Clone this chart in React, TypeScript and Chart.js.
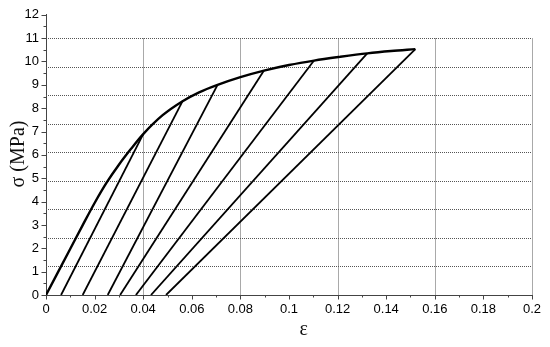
import React, { useEffect, useRef } from "react";
import { Chart, registerables } from "chart.js";

Chart.register(...registerables);

// Loading envelope (strain, stress in MPa)
const envelopeStrain = [0, 0.005, 0.01, 0.015, 0.02, 0.025, 0.03, 0.035, 0.04, 0.048, 0.0562, 0.063, 0.0706, 0.08, 0.0897, 0.1, 0.1103, 0.121, 0.1322, 0.142, 0.152];
const envelopeStress = [0, 0.99, 1.98, 2.97, 3.94, 4.82, 5.58, 6.26, 6.89, 7.7, 8.3, 8.68, 9.0, 9.33, 9.61, 9.85, 10.04, 10.2, 10.35, 10.45, 10.53];

// Unloading branches: from peak on envelope down to residual strain at zero stress
const peakStrain = [0.04, 0.0562, 0.0706, 0.0897, 0.1103, 0.1322, 0.152];
const peakStress = [6.89, 8.3, 9.0, 9.61, 10.04, 10.35, 10.53];
const residualStrain = [0.0062, 0.0151, 0.0254, 0.0305, 0.037, 0.0432, 0.0494];

// Axis ticks / grid
const xMin = 0, xMax = 0.2, xStep = 0.02, xMinorStep = 0.01;
const yMin = 0, yMax = 12, yStep = 1, yMinorStep = 0.5;
const gridX = [0.04, 0.08, 0.12, 0.16, 0.2];
const gridY = [1.222, 2.444, 3.667, 4.889, 6.111, 7.333, 8.556, 9.778, 11];
const gridTop = 11;

const xTitle = "ε";
const yTitle = "σ (MPa)";

const decorPlugin = {
  id: "decor",
  beforeDatasetsDraw(chart: any) {
    const { ctx, scales } = chart;
    const x = scales.x, y = scales.y;
    ctx.save();
    ctx.strokeStyle = "#555";
    ctx.lineWidth = 1;
    ctx.setLineDash([1, 1]);
    const top = Math.round(y.getPixelForValue(gridTop)) + 0.5;
    const bottom = y.getPixelForValue(0);
    for (const v of gridY) {
      const py = Math.round(y.getPixelForValue(v)) + 0.5;
      ctx.beginPath();
      ctx.moveTo(x.left, py);
      ctx.lineTo(x.right, py);
      ctx.stroke();
    }
    for (const v of gridX) {
      const px = Math.round(x.getPixelForValue(v)) + 0.5;
      ctx.beginPath();
      ctx.moveTo(px, top);
      ctx.lineTo(px, bottom);
      ctx.stroke();
    }
    ctx.restore();
  },
  afterDraw(chart: any) {
    const { ctx, scales } = chart;
    const x = scales.x, y = scales.y;
    ctx.save();
    ctx.strokeStyle = "#444";
    ctx.lineWidth = 1;
    const axisX = Math.round(x.left) + 0.5;
    const axisY = Math.round(y.bottom) + 0.5;
    // y ticks (outward, left)
    for (let i = 0; i <= Math.round((yMax - yMin) / yMinorStep); i++) {
      const v = yMin + i * yMinorStep;
      const py = Math.round(y.getPixelForValue(v)) + 0.5;
      const len = i % 2 === 0 ? 5 : 3;
      ctx.beginPath();
      ctx.moveTo(axisX - len, py);
      ctx.lineTo(axisX, py);
      ctx.stroke();
    }
    // x ticks (outward, down)
    for (let i = 0; i <= Math.round((xMax - xMin) / xMinorStep); i++) {
      const v = xMin + i * xMinorStep;
      const px = Math.round(x.getPixelForValue(v)) + 0.5;
      const len = i % 2 === 0 ? 4 : 2;
      ctx.beginPath();
      ctx.moveTo(px, axisY);
      ctx.lineTo(px, axisY + len);
      ctx.stroke();
    }
    // titles
    ctx.fillStyle = "#111";
    ctx.font = "20px 'Liberation Serif', serif";
    ctx.textAlign = "center";
    ctx.textBaseline = "middle";
    ctx.fillText(xTitle, x.getPixelForValue(0.106), 330);
    ctx.translate(19, 154);
    ctx.rotate(-Math.PI / 2);
    ctx.fillText(yTitle, 0, 0);
    ctx.restore();
  },
};

export default function App() {
  const ref = useRef<HTMLCanvasElement>(null);
  useEffect(() => {
    if (!ref.current) return;
    const datasets: any[] = [
      {
        data: envelopeStrain.map((e, i) => ({ x: e, y: envelopeStress[i] })),
        borderColor: "#000",
        borderWidth: 2.4,
        pointRadius: 0,
        cubicInterpolationMode: "monotone",
        fill: false,
      },
    ];
    peakStrain.forEach((e, i) => {
      datasets.push({
        data: [
          { x: e, y: peakStress[i] },
          { x: residualStrain[i], y: 0 },
        ],
        borderColor: "#000",
        borderWidth: 1.8,
        pointRadius: 0,
        fill: false,
      });
    });
    const chart = new Chart(ref.current, {
      type: "line",
      data: { datasets },
      options: {
        animation: false,
        responsive: false,
        maintainAspectRatio: false,
        layout: { padding: { top: 12, right: 18, left: 0, bottom: 0 } },
        plugins: { legend: { display: false }, tooltip: { enabled: false } },
        scales: {
          x: {
            type: "linear",
            min: xMin,
            max: xMax,
            grid: { display: false, drawTicks: false },
            border: { display: true, color: "#444", width: 1 },
            ticks: {
              stepSize: xStep,
              padding: 7,
              color: "#000",
              font: { family: "'Liberation Sans', Arial, sans-serif", size: 13 },
              callback: (v: any) => String(Number(Number(v).toFixed(2))),
              maxRotation: 0,
              autoSkip: false,
            },
            afterFit: (s: any) => {
              s.height = 52;
            },
          },
          y: {
            type: "linear",
            min: yMin,
            max: yMax,
            grid: { display: false, drawTicks: false },
            border: { display: true, color: "#444", width: 1 },
            ticks: {
              stepSize: yStep,
              padding: 7,
              color: "#000",
              font: { family: "'Liberation Sans', Arial, sans-serif", size: 13 },
              autoSkip: false,
            },
            afterFit: (s: any) => {
              s.width = 46;
            },
          },
        },
      },
      plugins: [decorPlugin],
    });
    return () => chart.destroy();
  }, []);
  return (
    <div style={{ position: "fixed", left: 0, top: 0, width: 550, height: 347, background: "#fff" }}>
      <canvas ref={ref} width={550} height={347} />
    </div>
  );
}
